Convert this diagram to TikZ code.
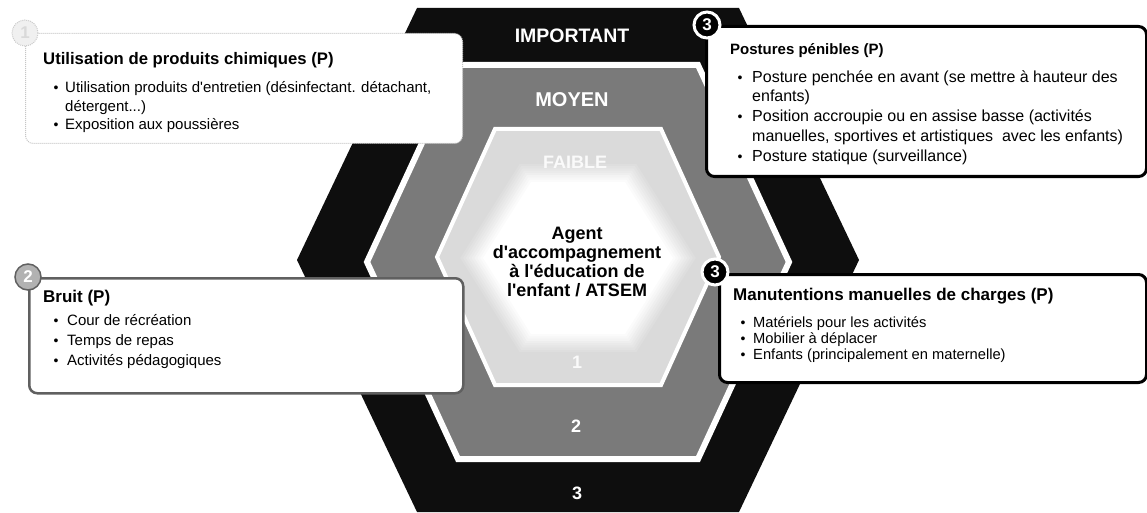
\documentclass[tikz,border=0pt]{standalone}
\usepackage{fontspec}
\setmainfont{Liberation Sans}[Ligatures=TeXOff]
\definecolor{outerband}{RGB}{14,14,14}
\definecolor{midband}{RGB}{122,122,122}
\definecolor{lightband}{RGB}{218,218,218}
\definecolor{noiseframe}{RGB}{96,96,96}
% hexagon with flat top and bottom: style, centre x, centre y,
% half width of the flat edges, half width at the side corners, half height
\newcommand\hexband[6]{%
  \path[#1] ({#2-#4},{#3-#6}) -- ({#2+#4},{#3-#6}) -- ({#2+#5},#3)
    -- ({#2+#4},{#3+#6}) -- ({#2-#4},{#3+#6}) -- ({#2-#5},#3) -- cycle;}
\newcommand\fs[1]{\fontsize{#1}{#1}\selectfont}
\begin{document}
\begin{tikzpicture}[x=1pt,y=-1pt,
  lvl/.style={anchor=base, inner sep=0pt, text=white, font=\bfseries\fs{19.5}},
  ctr/.style={anchor=base, inner sep=0pt, font=\bfseries\fs{18}},
  card/.style={fill=white, rounded corners=8pt, anchor=north west, inner sep=0pt},
  badge/.style={circle, minimum size=26pt, inner sep=0pt, text=white, font=\bfseries\fs{17}},
  ttl/.style={anchor=base west, inner sep=0pt},
  itm/.style={anchor=base west, inner sep=0pt},
  dot/.style={anchor=base, inner sep=0pt, font=\fs{14}},
]
\useasboundingbox (0,0) rectangle (1147,513);
\fill[white] (0,0) rectangle (1147,513);

% level bands
\hexband{fill=outerband}{578}{260}{161}{281}{252}
\hexband{fill=midband, draw=white, line width=6pt}{578}{262}{120}{211}{197}
\hexband{fill=lightband, draw=white, line width=4pt}{578}{257}{83}{141}{128}
% soft white core
\foreach \s in {1.24,1.21,...,0.99}{%
  \pgfmathtruncatemacro\c{max(0,(\s-1)/0.24*90)}%
  \hexband{fill=lightband!\c!white}{578}{258}{47*\s}{95*\s}{76*\s}}

% level labels
\node[lvl] (important) at (572,43) {IMPORTANT};
\node[lvl, font=\bfseries\fs{20}] (moyen) at (572,107) {MOYEN};
\node[lvl, font=\bfseries\fs{18}, text=white!96!gray] (faible) at (575,168) {FAIBLE};
\node[lvl, font=\bfseries\fs{18}, text=white!96!gray] (n1) at (577,368) {1};
\node[lvl, font=\bfseries\fs{18}] (n2) at (576,432) {2};
\node[lvl, font=\bfseries\fs{18}] (n3) at (577,499) {3};

% job title in the centre
\node[ctr] (c1) at (577,239) {Agent};
\node[ctr] (c2) at (577,258) {d'accompagnement};
\node[ctr] (c3) at (577,277) {à l'éducation de};
\node[ctr] (c4) at (577,296) {l'enfant / ATSEM};

% risk cards
\node[card, draw=gray!45, densely dotted, line width=1pt,
      minimum width=437pt, minimum height=110pt] (chem) at (25,33) {};
\node[card, draw=noiseframe, line width=2.5pt,
      minimum width=434pt, minimum height=115pt] (bruit) at (28,277) {};
\node[card, draw=black, line width=3pt,
      minimum width=440pt, minimum height=150pt] (post) at (705,25) {};
\node[card, draw=black, line width=3pt,
      minimum width=427pt, minimum height=108pt] (manu) at (718,273) {};

% score badges on the card corners
\node[badge, fill=gray!12, draw=gray!40, densely dotted, line width=1pt, text=gray!30] (b1) at (chem.north west) {1};
\node[badge, fill=gray!60, draw=noiseframe, line width=1.5pt] (b2) at (bruit.north west) {2};
\node[badge, fill=black, draw=white, line width=3pt] (b3) at ([shift={(2,0)}]post.north west) {3};
\node[badge, fill=black, draw=white, line width=3pt] (b4) at ([shift={(-3,-1)}]manu.north west) {3};

% chemical products
\node[ttl, font=\bfseries\fs{16.7}] (chemt) at (43,65) {Utilisation de produits chimiques (P)};
\begin{scope}[every node/.append style={font=\fs{15}}]
\node[dot] at (56,93) {\textbullet};
\node[itm] (chem1) at (65,93) {Utilisation produits d'entretien (désinfectant. détachant,};
\node[itm] (chem1b) at (65,112) {détergent...)};
\node[dot] at (56,130) {\textbullet};
\node[itm] (chem2) at (65,130) {Exposition aux poussières};
\end{scope}

% noise
\node[ttl, font=\bfseries\fs{17}] (bruitt) at (43,302) {Bruit (P)};
\begin{scope}[every node/.append style={font=\fs{15}}]
\node[dot] at (56,325) {\textbullet};
\node[itm] (bruit1) at (67,325) {Cour de récréation};
\node[dot] at (56,345) {\textbullet};
\node[itm] (bruit2) at (67,345) {Temps de repas};
\node[dot] at (56,365) {\textbullet};
\node[itm] (bruit3) at (67,365) {Activités pédagogiques};
\end{scope}

% postures
\node[ttl, font=\bfseries\fs{15}] (postt) at (730,55) {Postures pénibles (P)};
\begin{scope}[every node/.append style={font=\fs{16}}]
\node[dot] at (740,83) {\textbullet};
\node[itm] (post1) at (752,83) {Posture penchée en avant (se mettre à hauteur des};
\node[itm] (post1b) at (752,102) {enfants)};
\node[dot] at (740,122) {\textbullet};
\node[itm] (post2) at (752,122) {Position accroupie ou en assise basse (activités};
\node[itm] (post2b) at (752,142) {manuelles, sportives et artistiques\ \ avec les enfants)};
\node[dot] at (740,162) {\textbullet};
\node[itm] (post3) at (752,162) {Posture statique (surveillance)};
\end{scope}

% manual handling
\node[ttl, font=\bfseries\fs{17}] (manut) at (733,300) {Manutentions manuelles de charges (P)};
\begin{scope}[every node/.append style={font=\fs{14.7}}]
\node[dot] at (743,327) {\textbullet};
\node[itm] (manu1) at (753,327) {Matériels pour les activités};
\node[dot] at (743,343) {\textbullet};
\node[itm] (manu2) at (753,343) {Mobilier à déplacer};
\node[dot] at (743,359) {\textbullet};
\node[itm] (manu3) at (753,359) {Enfants (principalement en maternelle)};
\end{scope}
\end{tikzpicture}
\end{document}
